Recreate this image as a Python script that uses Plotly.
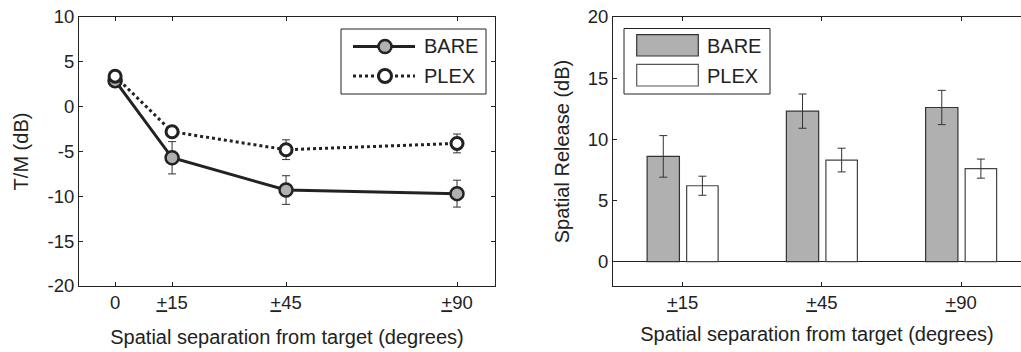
import plotly.graph_objects as go

# ---- data ----
left_x = [0, 15, 45, 90]
left_ticktext = ["0", "<u>+</u>15", "<u>+</u>45", "<u>+</u>90"]
left_yticks = [-20, -15, -10, -5, 0, 5, 10]
left_yticktext = ["-20", "-15", "-10", "-5", "0", "5", "10"]
bare_tm = [2.9, -5.7, -9.3, -9.7]
bare_tm_err = [0.25, 1.8, 1.6, 1.5]
plex_tm = [3.4, -2.8, -4.8, -4.1]
plex_tm_err = [0.25, 0.6, 1.1, 1.05]

right_cats = [1, 2, 3]
right_ticktext = ["<u>+</u>15", "<u>+</u>45", "<u>+</u>90"]
right_yticks = [0, 5, 10, 15, 20]
bare_sr = [8.6, 12.3, 12.6]
bare_sr_err = [1.7, 1.4, 1.4]
plex_sr = [6.2, 8.3, 7.6]
plex_sr_err = [0.78, 0.97, 0.78]

W, H = 1021, 352
FONT = "Liberation Sans, Arial, sans-serif"
TXT = "#222222"
DARK = "#222222"
GRAY = "#b0b0b0"


def px(x):
    return x / W


def py(y):
    return 1 - y / H


fig = go.Figure()

# left panel
fig.add_trace(go.Scatter(
    x=left_x, y=bare_tm, mode="lines+markers", name="BARE",
    line=dict(color=DARK, width=3),
    marker=dict(size=13, color=GRAY, line=dict(color=DARK, width=2.5)),
    error_y=dict(type="data", array=bare_tm_err, color="#333333", thickness=1, width=4),
    xaxis="x", yaxis="y", showlegend=False))
fig.add_trace(go.Scatter(
    x=left_x, y=plex_tm, mode="lines+markers", name="PLEX",
    line=dict(color=DARK, width=3, dash="dot"),
    marker=dict(size=12, color="white", line=dict(color=DARK, width=3)),
    error_y=dict(type="data", array=plex_tm_err, color="#333333", thickness=1, width=4),
    xaxis="x", yaxis="y", showlegend=False))

# right panel
fig.add_trace(go.Bar(
    x=right_cats, y=bare_sr, name="BARE", width=0.232, offset=-0.255,
    marker=dict(color=GRAY, line=dict(color="#333333", width=1.2)),
    error_y=dict(type="data", array=bare_sr_err, color="#333333", thickness=1, width=4),
    xaxis="x2", yaxis="y2", showlegend=False))
fig.add_trace(go.Bar(
    x=right_cats, y=plex_sr, name="PLEX", width=0.226, offset=0.029,
    marker=dict(color="white", line=dict(color="#444444", width=1.2)),
    error_y=dict(type="data", array=plex_sr_err, color="#333333", thickness=1, width=4),
    xaxis="x2", yaxis="y2", showlegend=False))

axis_common = dict(
    showline=True, linecolor="#222222", linewidth=1,
    ticks="inside", ticklen=4, tickcolor="#222222", showgrid=False,
    automargin=False, ticklabeloverflow="allow",
    tickfont=dict(family=FONT, size=18.5, color=TXT),
    title_font=dict(family=FONT, size=20, color=TXT),
)

ydom = [py(286), py(17)]

fig.update_layout(
    width=W, height=H,
    margin=dict(l=0, r=0, t=0, b=0),
    paper_bgcolor="white", plot_bgcolor="white",
    barmode="overlay",
    font=dict(family=FONT, color=TXT),
    xaxis=dict(domain=[px(79), px(495)], range=[-9.5, 100], tickmode="array",
               tickvals=left_x, ticktext=left_ticktext, zeroline=False, mirror="ticks",
               title=dict(text="Spatial separation from target (degrees)", standoff=17),
               anchor="y", **axis_common),
    yaxis=dict(domain=ydom, range=[-20, 10], tickmode="array", tickvals=left_yticks,
               ticktext=left_yticktext, mirror="ticks",
               zeroline=False, title=dict(text="T/M (dB)", standoff=13),
               anchor="x", **axis_common),
    xaxis2=dict(domain=[px(613), 1.0], range=[0.5, 3.43], tickmode="array",
                tickvals=right_cats, ticktext=right_ticktext, zeroline=False, mirror="ticks",
                title=dict(text="Spatial separation from target (degrees)", standoff=14),
                anchor="y2", **axis_common),
    yaxis2=dict(domain=ydom, range=[-2, 20], tickmode="array", tickvals=right_yticks,
                zeroline=True, zerolinecolor="#222222", zerolinewidth=1,
                title=dict(text="Spatial Release (dB)", standoff=12),
                anchor="x2", **axis_common),
)

shapes = []
ann = []
# left legend
shapes.append(dict(type="rect", xref="paper", yref="paper", x0=px(341), x1=px(486),
                   y0=py(94), y1=py(29), line=dict(color="#222222", width=1),
                   fillcolor="white", layer="above"))
for yy, dash, fill, lw in [(46.5, "solid", GRAY, 2.5), (76, "dot", "white", 3)]:
    shapes.append(dict(type="line", xref="paper", yref="paper", x0=px(353), x1=px(415),
                       y0=py(yy), y1=py(yy), line=dict(color=DARK, width=3, dash=dash)))
    r = 6.5
    shapes.append(dict(type="circle", xref="paper", yref="paper", x0=px(385 - r), x1=px(385 + r),
                       y0=py(yy + r), y1=py(yy - r), fillcolor=fill,
                       line=dict(color=DARK, width=lw)))
for yy, t in [(46.5, "BARE"), (76, "PLEX")]:
    ann.append(dict(x=px(422), y=py(yy), xref="paper", yref="paper", text=t, showarrow=False,
                    xanchor="left", yanchor="middle",
                    font=dict(family=FONT, size=20, color=TXT)))

# right legend
shapes.append(dict(type="rect", xref="paper", yref="paper", x0=px(624), x1=px(770),
                   y0=py(94), y1=py(28.5), line=dict(color="#222222", width=1),
                   fillcolor="white", layer="above"))
for (y0, y1), fill, lc in [((34.7, 56), GRAY, "#333333"), ((64.3, 86), "white", "#555555")]:
    shapes.append(dict(type="rect", xref="paper", yref="paper", x0=px(636.7), x1=px(698.3),
                       y0=py(y1), y1=py(y0), fillcolor=fill, line=dict(color=lc, width=1.2)))
for yy, t in [(46, "BARE"), (76, "PLEX")]:
    ann.append(dict(x=px(705), y=py(yy), xref="paper", yref="paper", text=t, showarrow=False,
                    xanchor="left", yanchor="middle",
                    font=dict(family=FONT, size=20, color=TXT)))

fig.update_layout(shapes=shapes, annotations=ann)
fig.write_html("out.html", config={"displayModeBar": False},
               post_script="document.body.style.margin='0px';")
